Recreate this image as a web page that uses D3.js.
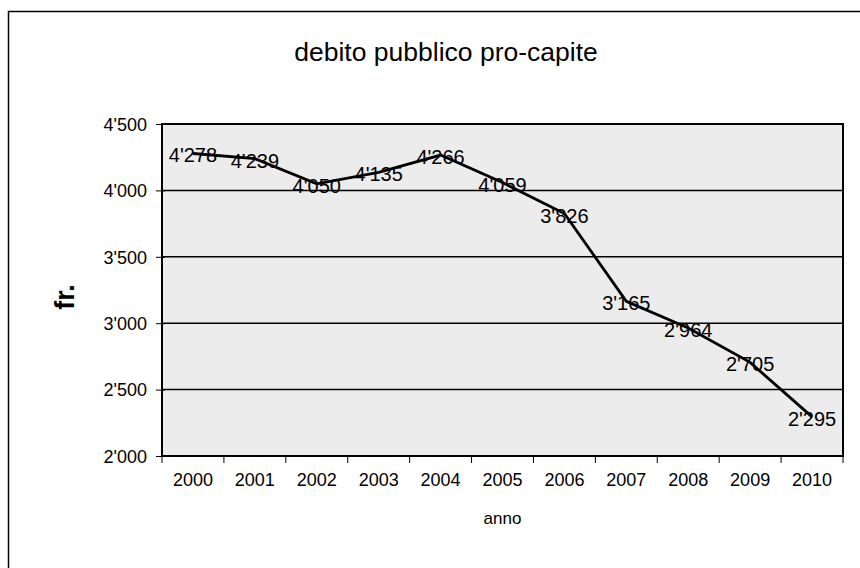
<!DOCTYPE html>
<html lang="it">
<head>
<meta charset="UTF-8">
<title>debito pubblico pro-capite</title>
<script src="https://d3js.org/d3.v7.min.js"></script>
<style>
  body { margin: 0; background: #fff; }
  text { font-family: Arial, "Liberation Sans", sans-serif; fill: #000; }
</style>
</head>
<body>
<svg id="chart" width="860" height="568"></svg>
<script>
// data
var anni   = ["2000", "2001", "2002", "2003", "2004", "2005", "2006", "2007", "2008", "2009", "2010"];
var debito = [4278, 4239, 4050, 4135, 4266, 4059, 3826, 3165, 2964, 2705, 2295];
var yTicks = [2000, 2500, 3000, 3500, 4000, 4500];

var width = 860, height = 568;
var margin = { left: 162, right: 17, top: 124, bottom: 112 };
var plotW = width - margin.left - margin.right;
var plotH = height - margin.top - margin.bottom;

var svg = d3.select("#chart");

// thousands separator is an apostrophe: 4'278
var fmt = function(v) { return d3.format(",")(v).replace(/,/g, "'"); };

// outer chart frame (runs off the right and bottom edge)
svg.append("path")
    .attr("d", "M8.5,568 L8.5,11.5 L870,11.5")
    .attr("fill", "none")
    .attr("stroke", "#000")
    .attr("stroke-width", 1.5);

var x = d3.scaleBand().domain(anni).range([0, plotW]).padding(0);
var y = d3.scaleLinear().domain([2000, 4500]).range([plotH, 0]);

var g = svg.append("g").attr("transform", "translate(" + margin.left + "," + margin.top + ")");

// plot background (grey scanned paper)
g.append("rect")
    .attr("width", plotW).attr("height", plotH)
    .attr("fill", "#ececec");

// horizontal gridlines
g.selectAll("line.grid")
    .data(yTicks.slice(1, -1))
    .enter().append("line")
    .attr("class", "grid")
    .attr("x1", 0).attr("x2", plotW)
    .attr("y1", function(d) { return y(d); })
    .attr("y2", function(d) { return y(d); })
    .attr("stroke", "#000")
    .attr("stroke-width", 1.5);

// plot border
g.append("rect")
    .attr("width", plotW).attr("height", plotH)
    .attr("fill", "none")
    .attr("stroke", "#000")
    .attr("stroke-width", 2);

// y axis
var yAxis = g.append("g")
    .call(d3.axisLeft(y).tickValues(yTicks).tickFormat(fmt).tickSize(6).tickPadding(9));
yAxis.select(".domain").remove();
yAxis.selectAll("line").attr("stroke", "#000").attr("x2", -6).attr("x1", 3);
yAxis.selectAll("text").style("font-size", "18px").attr("dy", "0.35em");

// x axis: ticks between the categories
var xAxis = g.append("g").attr("transform", "translate(0," + plotH + ")");
xAxis.selectAll("line")
    .data(d3.range(anni.length + 1))
    .enter().append("line")
    .attr("x1", function(i) { return i * x.bandwidth(); })
    .attr("x2", function(i) { return i * x.bandwidth(); })
    .attr("y1", 0).attr("y2", 7)
    .attr("stroke", "#000");
xAxis.selectAll("text")
    .data(anni)
    .enter().append("text")
    .attr("x", function(d) { return x(d) + x.bandwidth() / 2; })
    .attr("y", 30)
    .attr("text-anchor", "middle")
    .style("font-size", "18px")
    .text(function(d) { return d; });

// the series line
var line = d3.line()
    .x(function(d, i) { return x(anni[i]) + x.bandwidth() / 2; })
    .y(function(d) { return y(d); });

g.append("path")
    .datum(debito)
    .attr("d", line)
    .attr("fill", "none")
    .attr("stroke", "#000")
    .attr("stroke-width", 2.8);

// data labels centred on the points
g.selectAll("text.lbl")
    .data(debito)
    .enter().append("text")
    .attr("class", "lbl")
    .attr("x", function(d, i) { return x(anni[i]) + x.bandwidth() / 2; })
    .attr("y", function(d) { return y(d); })
    .attr("dy", "0.45em")
    .attr("text-anchor", "middle")
    .style("font-size", "20px")
    .text(fmt);

// titles
svg.append("text")
    .attr("x", 446).attr("y", 61)
    .attr("text-anchor", "middle")
    .style("font-size", "26.5px")
    .text("debito pubblico pro-capite");

svg.append("text")
    .attr("x", margin.left + plotW / 2).attr("y", 524)
    .attr("text-anchor", "middle")
    .style("font-size", "17px")
    .text("anno");

svg.append("text")
    .attr("transform", "translate(74,297) rotate(-90)")
    .attr("text-anchor", "middle")
    .style("font-size", "27px")
    .style("font-weight", "bold")
    .text("fr.");
</script>
</body>
</html>
